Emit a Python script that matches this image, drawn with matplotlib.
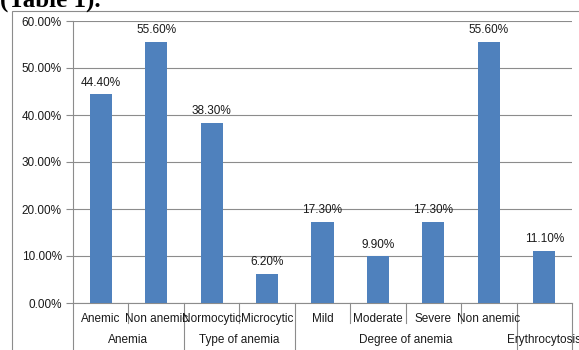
import matplotlib.pyplot as plt
from matplotlib.patches import Rectangle

categories = ['Anemic', 'Non anemic', 'Normocytic', 'Microcytic', 'Mild',
              'Moderate', 'Severe', 'Non anemic', '']
values = [44.4, 55.6, 38.3, 6.2, 17.3, 9.9, 17.3, 55.6, 11.1]
groups = ['Anemia', 'Type of anemia', 'Degree of anemia', 'Erythrocytosis']
group_sizes = [2, 2, 4, 1]
y_ticks = [0, 10, 20, 30, 40, 50, 60]

plt.rcParams['font.family'] = ['Liberation Sans', 'DejaVu Sans']
text_color = '#1a1a1a'
line_color = '#8c8c8c'

W, H = 579, 350
fig = plt.figure(figsize=(W / 100, H / 100), dpi=100)

# caption text above the chart, cut off by the top edge
fig.text(0, 1 - 7 / H, '(Table 1).', family='Liberation Serif', fontsize=18,
         fontweight='bold', ha='left', va='baseline', color='black')

# outer chart border
fig.patches.append(Rectangle((12 / W, -0.1), 1.2, 1 - 11 / H + 0.1,
                             transform=fig.transFigure, fill=False,
                             edgecolor=line_color, linewidth=0.8))

ax = fig.add_axes([73 / W, 47 / H, 499 / W, 282 / H])
n = len(categories)
x = range(n)
ax.bar(x, values, width=0.4, color='#4F81BD', zorder=3)
ax.set_xlim(-0.5, n - 0.5)
ax.set_ylim(0, 60)

for xi, v in zip(x, values):
    ax.annotate(f'{v:.2f}%', (xi, v), xytext=(0, 4), textcoords='offset points',
                ha='center', va='bottom', fontsize=8.5, color=text_color)

ax.set_yticks(y_ticks)
ax.set_yticklabels([f'{t:.2f}%' for t in y_ticks], fontsize=8.5, color=text_color)
ax.tick_params(axis='y', length=5, width=0.8, color=line_color, pad=3)
ax.set_xticks([])
ax.grid(axis='y', color=line_color, linewidth=0.8, zorder=0)
for side in ['top', 'right']:
    ax.spines[side].set_visible(False)
ax.spines['left'].set_color(line_color)
ax.spines['left'].set_linewidth(0.8)
ax.spines['bottom'].set_color(line_color)
ax.spines['bottom'].set_linewidth(0.8)

trans = ax.get_xaxis_transform()
for xi, name in zip(x, categories):
    ax.text(xi, -0.057, name, transform=trans, ha='center', va='center',
            fontsize=8.5, color=text_color, clip_on=False)

# category dividers below the axis
bounds = [0]
for s in group_sizes:
    bounds.append(bounds[-1] + s)
for b in range(n + 1):
    bottom = -0.25 if b in bounds else -0.071
    ax.plot([b - 0.5, b - 0.5], [0, bottom], transform=trans, color=line_color,
            linewidth=0.8, clip_on=False)

for g, a, b in zip(groups, bounds[:-1], bounds[1:]):
    ax.text((a + b - 1) / 2, -0.131, g, transform=trans, ha='center', va='center',
            fontsize=8.5, color=text_color, clip_on=False)

fig.savefig('out.png', dpi=100)
